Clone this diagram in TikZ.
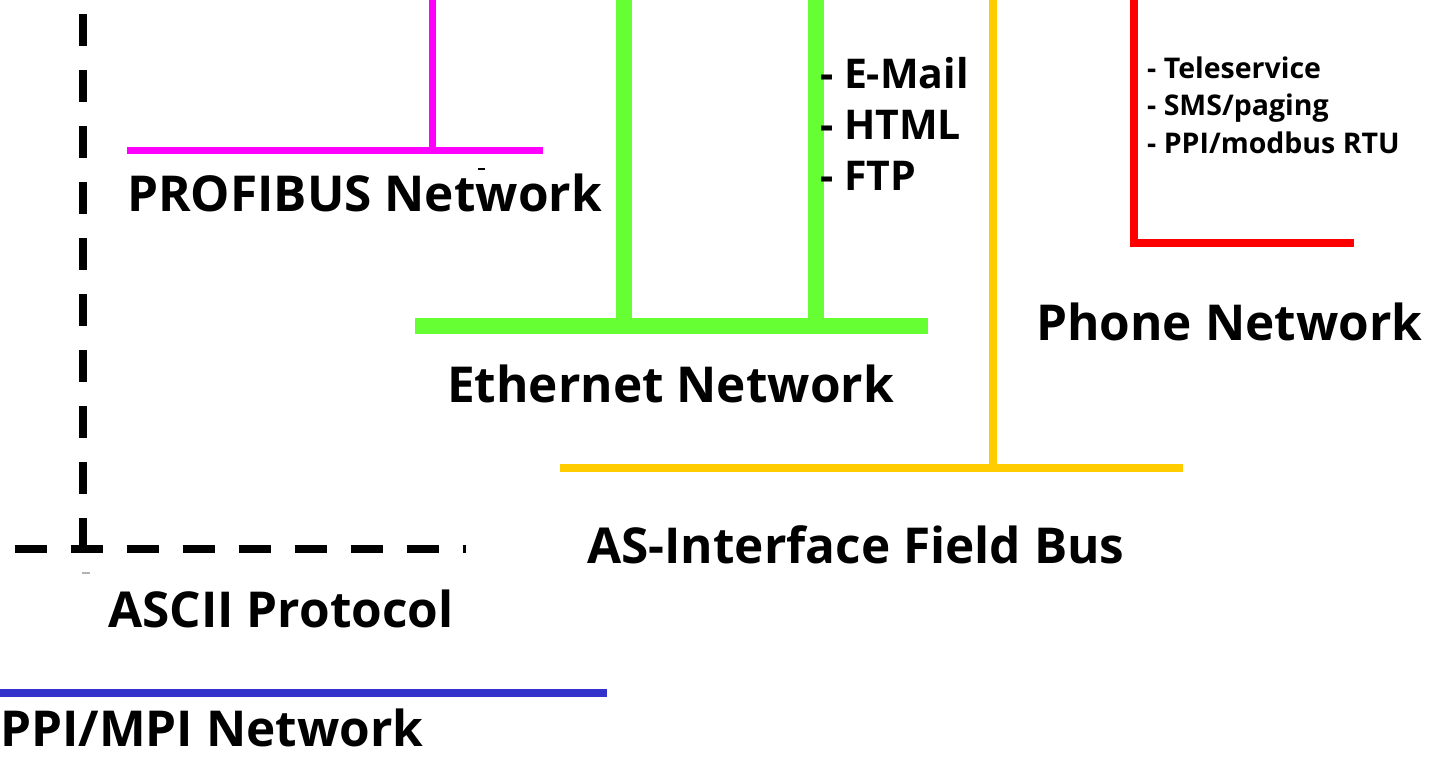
\documentclass[tikz,border=0pt]{standalone}
\usepackage{fontspec}
\setmainfont{Open Sans}
\definecolor{pbmag}{HTML}{FF00FF}
\definecolor{ethgreen}{HTML}{66FF33}
\definecolor{asiyellow}{HTML}{FFCC00}
\definecolor{phonered}{HTML}{FF0000}
\definecolor{ppiblue}{HTML}{3333CC}
\begin{document}
\begin{tikzpicture}[x=1pt,y=-1pt,
  bus/.style={line width=8pt,line cap=butt,line join=miter},
  thickbus/.style={line width=16pt,line cap=butt},
  asciibus/.style={line width=8pt,line cap=butt,dash pattern=on 32pt off 24pt},
  netlabel/.style={anchor=west,inner sep=0pt,font=\bfseries\fontsize{49.5}{54}\selectfont},
  svclist/.style={anchor=west,inner sep=0pt,align=left,font=\bfseries\fontsize{41}{51}\selectfont},
  remotelist/.style={anchor=west,inner sep=0pt,align=left,font=\bfseries\fontsize{28.5}{37.5}\selectfont}]
\useasboundingbox (0,0) rectangle (1437,756);

% bus coordinates
\coordinate (pbTop) at (432,0);   \coordinate (pbJoin) at (432,150);
\coordinate (pbL) at (127,150);   \coordinate (pbR) at (543,150);
\coordinate (ethTopA) at (624,0); \coordinate (ethJoinA) at (624,326);
\coordinate (ethTopB) at (816,0); \coordinate (ethJoinB) at (816,326);
\coordinate (ethL) at (415,326);  \coordinate (ethR) at (928,326);
\coordinate (asiTop) at (993,0);  \coordinate (asiJoin) at (993,468);
\coordinate (asiL) at (560,468);  \coordinate (asiR) at (1183,468);
\coordinate (telTop) at (1134,0); \coordinate (telCorner) at (1134,243);
\coordinate (telR) at (1354,243);
\coordinate (ppiL) at (0,693);    \coordinate (ppiR) at (607,693);
\coordinate (ascTop) at (83,14);  \coordinate (ascJoin) at (83,549);
\coordinate (ascL) at (15,549);   \coordinate (ascR) at (466,549);

% PROFIBUS
\draw[bus,line width=7pt,pbmag] (pbTop) -- (pbJoin);
\draw[bus,line width=7pt,pbmag] (pbL) -- (pbR);
% Ethernet
\draw[thickbus,ethgreen] (ethTopA) -- (ethJoinA);
\draw[thickbus,ethgreen] (ethTopB) -- (ethJoinB);
\draw[thickbus,ethgreen] (ethL) -- (ethR);
% AS-Interface
\draw[bus,asiyellow] (asiTop) -- (asiJoin);
\draw[bus,asiyellow] (asiL) -- (asiR);
% Phone
\draw[bus,phonered] (telTop) -- (telCorner) -- (telR);
% PPI/MPI
\draw[bus,ppiblue] (ppiL) -- (ppiR);
% ASCII (dashed)
\draw[asciibus] (ascTop) -- (ascJoin);
\draw[asciibus] (ascL) -- (ascR);
\coordinate (tickA) at (82,573); \coordinate (tickB) at (90,573);
\draw[gray!60,line width=1.5pt] (tickA) -- (tickB);
\coordinate (tickC) at (478,169); \coordinate (tickD) at (485,169);
\draw[line width=2pt] (tickC) -- (tickD);

% labels
\node[netlabel] (pbLabel) at (127,193) {PROFIBUS Network};
\node[netlabel] (ethLabel) at (447,384) {Ethernet Network};
\node[netlabel] (telLabel) at (1036,322) {Phone Network};
\node[netlabel] (asiLabel) at (587,545) {AS-Interface Field Bus};
\node[netlabel] (ascLabel) at (108,609) {ASCII Protocol};
\node[netlabel] (ppiLabel) at (0,728) {PPI/MPI Network};
\node[svclist] (ethServices) at (820,124) {- E-Mail\\- HTML\\- FTP};
\node[remotelist] (telServices) at (1147,105) {- Teleservice\\- SMS/paging\\- PPI/modbus RTU};
\end{tikzpicture}
\end{document}
